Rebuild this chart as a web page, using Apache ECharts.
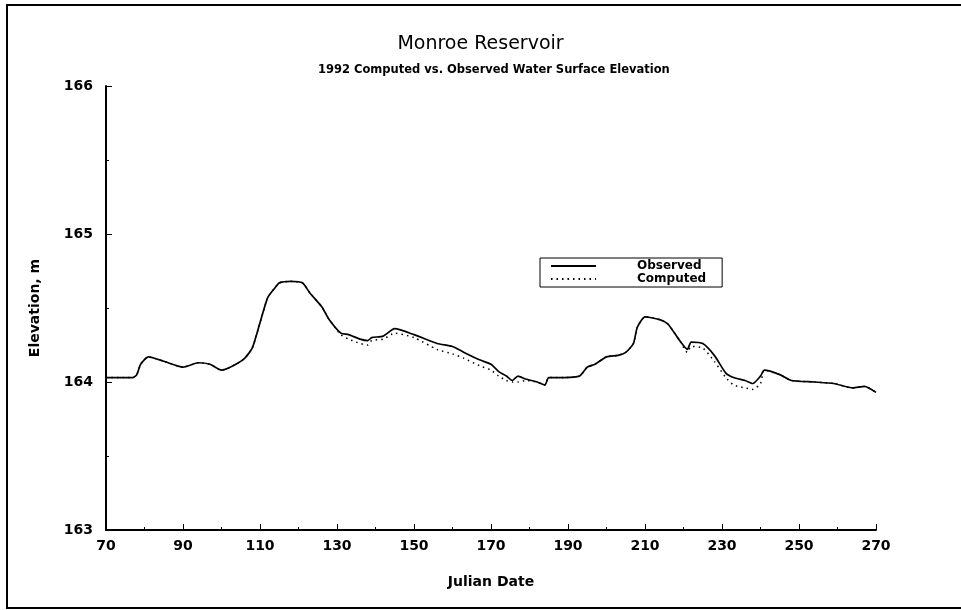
<!DOCTYPE html>
<html>
<head>
<meta charset="utf-8">
<script src="https://cdn.jsdelivr.net/npm/echarts@6/dist/echarts.min.js"></script>
<style>html,body{margin:0;padding:0;background:#fff;}#c{width:961px;height:610px;}</style>
</head>
<body>
<div id="c"></div>
<script>
const titleText = "Monroe Reservoir";
const subtitleText = "1992 Computed vs. Observed Water Surface Elevation";
const xName = "Julian Date";
const yName = "Elevation, m";
const seriesNames = ["Observed", "Computed"];
const days = [70,77,78,79,81,85,90,94,97,100,103,106,108,110,112,114,115,118,121,123,126,128,131,133,136,138,139,142,145,150,156,160,163,167,170,172,174,175.5,177,179,182,184,185,189,193,195,197,200,203,205,207,208,210,214,216,219,221,222,225,228,231,233,236,238,240,241,245,248,254,259,264,267,270];
const observed = [164.03,164.03,164.05,164.12,164.17,164.14,164.10,164.13,164.12,164.08,164.11,164.16,164.23,164.40,164.57,164.64,164.67,164.68,164.67,164.60,164.51,164.42,164.33,164.32,164.29,164.28,164.30,164.31,164.36,164.32,164.26,164.24,164.20,164.15,164.12,164.07,164.04,164.01,164.04,164.02,164.00,163.98,164.03,164.03,164.04,164.10,164.12,164.17,164.18,164.20,164.26,164.37,164.44,164.42,164.39,164.28,164.22,164.27,164.26,164.18,164.06,164.03,164.01,163.99,164.04,164.08,164.05,164.01,164.00,163.99,163.96,163.97,163.93];
const computed = [164.03,164.03,164.05,164.12,164.17,164.14,164.10,164.13,164.12,164.08,164.11,164.16,164.23,164.40,164.57,164.64,164.67,164.68,164.67,164.60,164.51,164.42,164.32,164.29,164.26,164.25,164.28,164.29,164.33,164.30,164.22,164.19,164.16,164.11,164.08,164.04,164.01,164.00,164.00,164.01,164.00,163.98,164.03,164.03,164.04,164.10,164.12,164.17,164.18,164.20,164.26,164.37,164.44,164.42,164.39,164.28,164.20,164.24,164.23,164.14,164.03,163.98,163.96,163.95,163.99,164.08,164.05,164.01,164.00,163.99,163.96,163.97,163.93];

const font = "'DejaVu Sans', Arial, sans-serif";
const chart = echarts.init(document.getElementById('c'));
chart.setOption({
  animation: false,
  backgroundColor: '#fff',
  title: [
    {text: titleText, left: 'center', top: 30, textStyle: {fontFamily: font, fontSize: 19, fontWeight: 'normal', color: '#000'}},
    {text: subtitleText, left: 313, top: 59, textStyle: {fontFamily: font, fontSize: 11.5, fontWeight: 'bold', color: '#000'}}
  ],
  graphic: [
    {type: 'rect', shape: {x: 7, y: 5, width: 1000, height: 603}, style: {fill: 'none', stroke: '#000', lineWidth: 2}, silent: true}
  ],
  legend: {
    left: 540, top: 258, orient: 'vertical',
    itemWidth: 45, itemHeight: 10, itemGap: 1,
    itemStyle: {opacity: 0},
    padding: [2, 16, 2, 10],
    borderColor: '#000', borderWidth: 1,
    textStyle: {fontFamily: font, fontSize: 12, fontWeight: 'bold', color: '#000', padding: [0, 0, 0, 36]},
    data: seriesNames
  },
  grid: {left: 106, right: 85, top: 86, bottom: 80},
  xAxis: {
    type: 'value', min: 70, max: 270, interval: 20,
    name: xName, nameLocation: 'middle', nameGap: 45,
    nameTextStyle: {fontFamily: font, fontSize: 14, fontWeight: 'bold', color: '#000'},
    axisLine: {lineStyle: {color: '#000', width: 2}},
    axisTick: {inside: true, length: 6, lineStyle: {color: '#000'}},
    minorTick: {show: true, splitNumber: 2, length: 3, lineStyle: {color: '#000'}},
    axisLabel: {fontFamily: font, fontSize: 14, fontWeight: 'bold', color: '#000', margin: 9},
    splitLine: {show: false}
  },
  yAxis: {
    type: 'value', min: 163, max: 166, interval: 1,
    name: yName, nameLocation: 'middle', nameGap: 64,
    nameTextStyle: {fontFamily: font, fontSize: 14, fontWeight: 'bold', color: '#000'},
    axisLine: {show: true, lineStyle: {color: '#000', width: 2}},
    axisTick: {show: true, inside: true, length: 6, lineStyle: {color: '#000'}},
    minorTick: {show: true, splitNumber: 2, length: 3, lineStyle: {color: '#000'}},
    axisLabel: {fontFamily: font, fontSize: 14, fontWeight: 'bold', color: '#000', margin: 13},
    splitLine: {show: false}
  },
  series: [
    {name: seriesNames[0], type: 'line', symbol: 'none', smooth: 0.2, z: 3,
     data: days.map((d, i) => [d, observed[i]]),
     lineStyle: {color: '#000', width: 1.7}, itemStyle: {color: '#000'}},
    {name: seriesNames[1], type: 'line', symbol: 'none', smooth: 0.2, z: 2,
     data: days.map((d, i) => [d, computed[i]]),
     lineStyle: {color: '#000', width: 1.5, type: [1.5, 4]}, itemStyle: {color: '#000'}}
  ]
});
</script>
</body>
</html>
